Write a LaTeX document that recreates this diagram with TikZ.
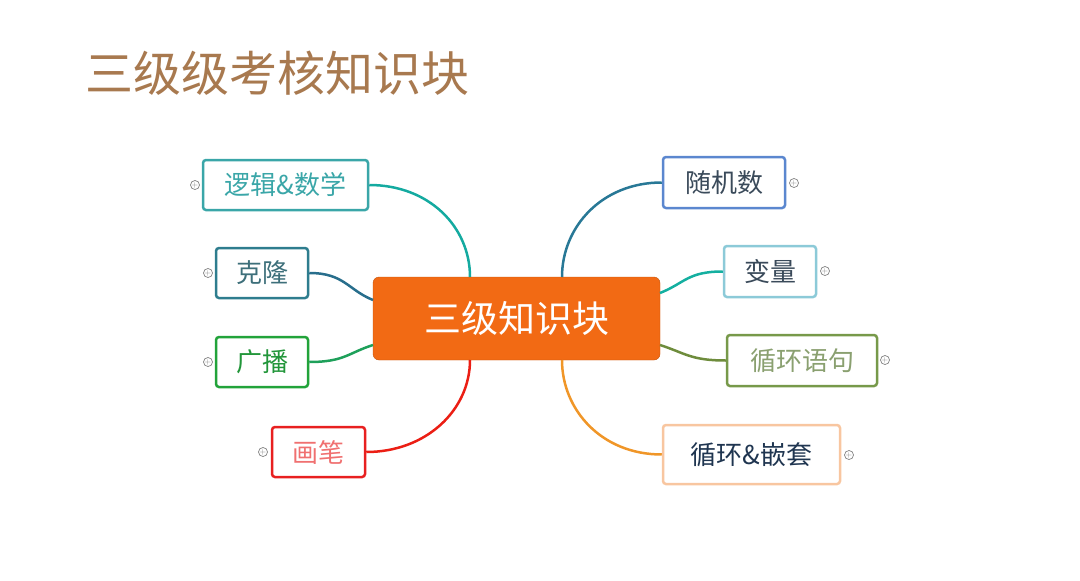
\documentclass[tikz,border=0pt]{standalone}
\usepackage{fontspec}
\newfontfamily\cjk{Noto Sans CJK SC}
\begin{document}
\begin{tikzpicture}[x=1pt,y=-1pt,
  box/.style={draw,rounded corners=3,line width=2.5pt,fill=white,inner sep=0pt,font=\cjk\fontsize{26}{30}\selectfont},
  link/.style={line width=2.5pt},
  plus/.style={circle,draw=gray,line width=0.7pt,minimum size=9pt,inner sep=0pt,font=\fontsize{8}{8}\selectfont,text=gray}]
\useasboundingbox (0,0) rectangle (1080,581);
\definecolor{ctr}{HTML}{F26A14}
\definecolor{ttl}{HTML}{A8794F}
\node[anchor=west,text=ttl,font=\cjk\fontsize{48}{54}\selectfont] (title) at (82,73) {三级级考核知识块};
\node[fill=ctr,draw=ctr!80!black,rounded corners=6,minimum width=287pt,minimum height=83pt,text=white,font=\cjk\fontsize{37}{42}\selectfont] (c) at (516.5,318.5) {三级知识块};
\node[box,draw={rgb,255:red,58;green,166;blue,168},text={rgb,255:red,58;green,166;blue,168},minimum width=165pt,minimum height=50pt] (a1) at (285.5,185) {逻辑\&数学};
\node[box,draw={rgb,255:red,46;green,125;blue,142},text={rgb,255:red,61;green,111;blue,122},minimum width=92pt,minimum height=50pt] (a2) at (262,273) {克隆};
\node[box,draw={rgb,255:red,34;green,163;blue,58},text={rgb,255:red,34;green,150;blue,58},minimum width=92pt,minimum height=50pt] (a3) at (262,362) {广播};
\node[box,draw={rgb,255:red,232;green,32;blue,32},text={rgb,255:red,240;green,112;blue,112},minimum width=93pt,minimum height=50pt] (a4) at (318.5,452) {画笔};
\node[box,draw={rgb,255:red,91;green,135;blue,207},text={rgb,255:red,58;green,74;blue,90},minimum width=122pt,minimum height=51pt] (b1) at (724,182.5) {随机数};
\node[box,draw={rgb,255:red,140;green,202;blue,216},text={rgb,255:red,58;green,74;blue,90},minimum width=92pt,minimum height=51pt] (b2) at (770,271.5) {变量};
\node[box,draw={rgb,255:red,119;green,153;blue,74},text={rgb,255:red,138;green,160;blue,112},minimum width=150pt,minimum height=51pt] (b3) at (802,360.5) {循环语句};
\node[box,draw={rgb,255:red,248;green,198;blue,160},text={rgb,255:red,31;green,53;blue,80},minimum width=177pt,minimum height=59pt] (b4) at (751.5,454.5) {循环\&嵌套};
\coordinate (ct1) at (470,277); \coordinate (ct2) at (562,277);
\coordinate (cl1) at (373,300); \coordinate (cl2) at (373,345);
\coordinate (cr1) at (660,293); \coordinate (cr2) at (660,345);
\coordinate (cb1) at (470,360); \coordinate (cb2) at (562,360);
\draw[link,draw={rgb,255:red,20;green,170;blue,160}] (a1.east) .. controls +(60,0) and +(0,-50) .. (ct1);
\draw[link,draw={rgb,255:red,40;green,110;blue,140}] (a2.east) .. controls +(35,0) and +(-25,-10) .. (cl1);
\draw[link,draw={rgb,255:red,30;green,160;blue,90}] (a3.east) .. controls +(35,0) and +(-25,8) .. (cl2);
\draw[link,draw={rgb,255:red,235;green,30;blue,20}] (a4.east) .. controls +(60,0) and +(0,50) .. (cb1);
\draw[link,draw={rgb,255:red,40;green,120;blue,150}] (b1.west) .. controls +(-60,0) and +(0,-50) .. (ct2);
\draw[link,draw={rgb,255:red,20;green,175;blue,160}] (b2.west) .. controls +(-35,0) and +(25,-10) .. (cr1);
\draw[link,draw={rgb,255:red,110;green,140;blue,60}] (b3.west) .. controls +(-35,0) and +(25,8) .. (cr2);
\draw[link,draw={rgb,255:red,240;green,150;blue,40}] (b4.west) .. controls +(-60,0) and +(0,50) .. (cb2);
\node[plus] (p1) at (195,185) {+};
\node[plus] (p2) at (208,273) {+};
\node[plus] (p3) at (208,362) {+};
\node[plus] (p4) at (263,452) {+};
\node[plus] (p5) at (794,183) {+};
\node[plus] (p6) at (825,271) {+};
\node[plus] (p7) at (885,360) {+};
\node[plus] (p8) at (849,455) {+};
\end{tikzpicture}
\end{document}
